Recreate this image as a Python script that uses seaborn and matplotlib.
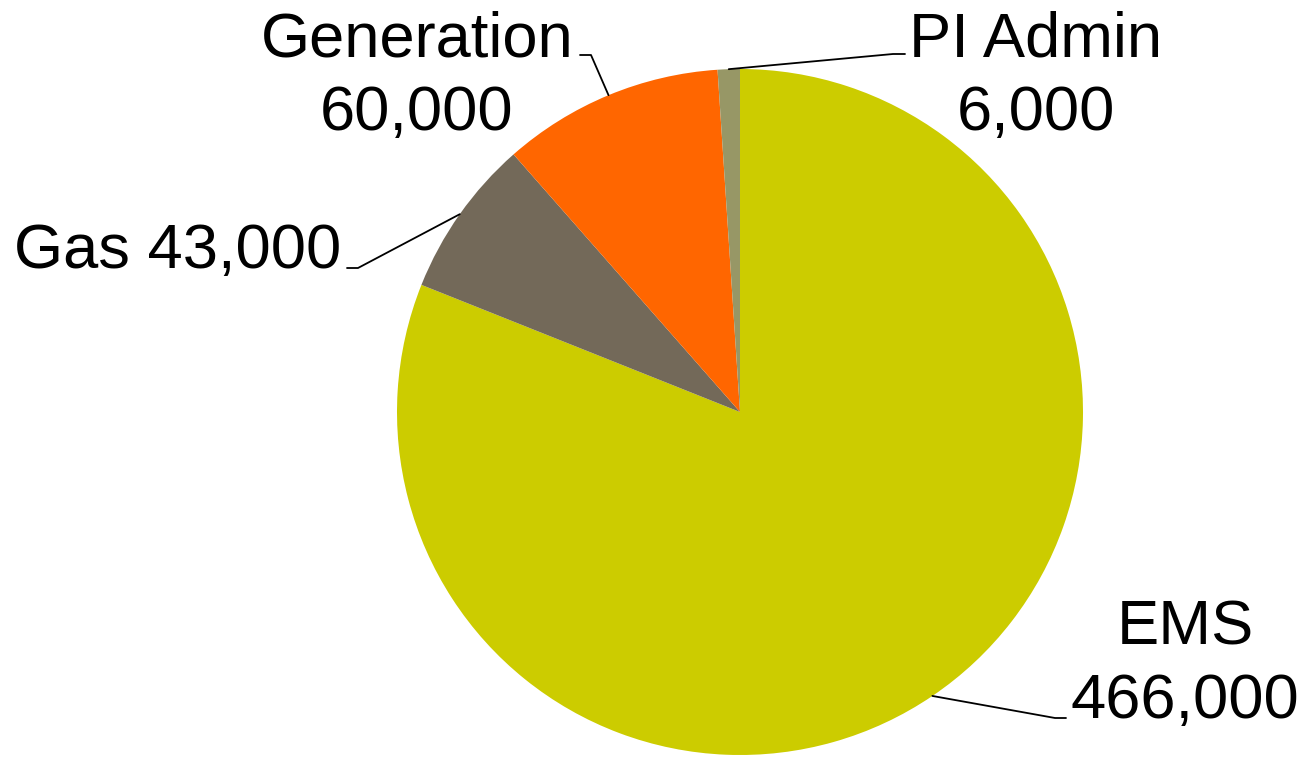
import numpy as np
import seaborn as sns
from matplotlib import pyplot as plt

# data
labels = ["EMS", "Gas", "Generation", "PI Admin"]
values = [466000, 43000, 60000, 6000]
colors = ["#CCCC00", "#736959", "#FF6600", "#979766"]

sns.set_theme(style="white")
plt.rcParams['font.family'] = ['Liberation Sans', 'DejaVu Sans']

W, H = 1306, 757
fig = plt.figure(figsize=(W / 100, H / 100), dpi=100)
ax = fig.add_axes([0, 0, 1, 1])

cx, cy, r = 740, H - 412, 343
wedges, _ = ax.pie(values, colors=colors, startangle=90, counterclock=False,
                   center=(cx, cy), radius=r, wedgeprops=dict(linewidth=0))

ax.set_xlim(0, W)
ax.set_ylim(0, H)
ax.set_aspect('equal')
ax.axis('off')


def edge_point(w):
    ang = np.deg2rad((w.theta1 + w.theta2) / 2)
    return cx + r * np.cos(ang), cy + r * np.sin(ang)


def fmt(v):
    return f"{v:,}"


# label layout (pixel coords from the top, y = baseline of last line)
fs = 45.5
txt = {
    "EMS": dict(x=1185, y=718, ha='center', text="EMS\n" + fmt(values[0])),
    "Gas": dict(x=14, y=268, ha='left', text="Gas " + fmt(values[1])),
    "Generation": dict(x=417, y=130, ha='center', text="Generation\n" + fmt(values[2])),
    "PI Admin": dict(x=1036, y=130, ha='center', text="PI Admin\n" + fmt(values[3])),
}
elbows = {
    "EMS": [(1055, 718), (1066, 718)],
    "Gas": [(358, 268), (347, 268)],
    "Generation": [(591, 55), (580, 55)],
    "PI Admin": [(893, 54), (905, 54)],
}

for w, lab in zip(wedges, labels):
    t = txt[lab]
    ax.text(t["x"], H - t["y"], t["text"], ha=t["ha"], va='baseline',
            fontsize=fs, color='black', linespacing=1.31, multialignment='center')
    ex, ey = edge_point(w)
    pts = [(ex, ey)] + [(px, H - py) for px, py in elbows[lab]]
    xs, ys = zip(*pts)
    ax.plot(xs, ys, color='black', lw=1.3)

fig.savefig("out.png", dpi=100, facecolor='white')
